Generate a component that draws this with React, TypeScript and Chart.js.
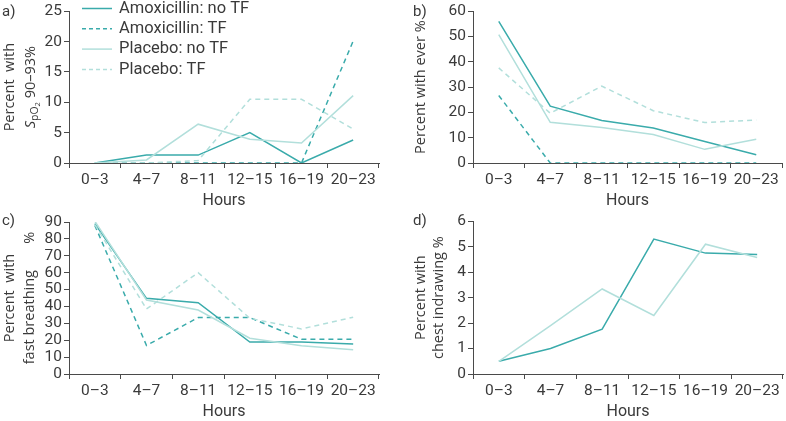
import React, { useEffect, useRef } from 'react';
import { Chart, registerables } from 'chart.js';

Chart.register(...registerables);

// ---------- data ----------
const HOURS = ['0–3', '4–7', '8–11', '12–15', '16–19', '20–23'];
const SERIES_NAMES = ['Amoxicillin: no TF', 'Amoxicillin: TF', 'Placebo: no TF', 'Placebo: TF'];

// a) Percent with SpO2 90–93%
const SPO2_AMOX_NO_TF = [0, 1.3, 1.3, 5.0, 0, 3.8];
const SPO2_AMOX_TF = [0, 0, 0, 0, 0, 20.1];
const SPO2_PLAC_NO_TF = [0, 0.5, 6.4, 3.9, 3.3, 11.1];
const SPO2_PLAC_TF = [0, 0, 0.4, 10.5, 10.5, 5.6];

// b) Percent with ever %
const EVER_AMOX_NO_TF = [56, 22.5, 16.8, 13.8, 8.5, 3.3];
const EVER_AMOX_TF = [26.7, 0, 0, 0, 0, 0];
const EVER_PLAC_NO_TF = [50.8, 16.1, 14.0, 11.3, 5.4, 9.4];
const EVER_PLAC_TF = [37.6, 19.7, 30.4, 20.7, 16.0, 17.0];

// c) Percent with fast breathing %
const FAST_AMOX_NO_TF = [89, 44.8, 42.2, 18.9, 19.0, 17.7];
const FAST_AMOX_TF = [88, 16.9, 33.4, 33.4, 20.6, 20.6];
const FAST_PLAC_NO_TF = [90.5, 43.8, 37.9, 21.2, 16.7, 14.3];
const FAST_PLAC_TF = [88.5, 38.5, 60, 33, 26.7, 33.6];

// d) Percent with chest indrawing %
const CHEST_AMOX_NO_TF = [0.5, 1.0, 1.76, 5.3, 4.75, 4.7];
const CHEST_PLAC_NO_TF = [0.5, 1.9, 3.34, 2.3, 5.1, 4.58];

// ---------- styles ----------
const AMOX = '#3aabab';
const PLAC = '#b2dfdb';
const AXIS = '#4a4a4a';
const TEXT = '#3a3a3a';
const TICK_FONT = 'Roboto';
const TITLE_FONT = '"Open Sans"';
const TICK_SIZE = 15.5;
const TITLE_SIZE = 14.5;
const DASH = [5, 4];

type Seg = { text: string; size: number; dy?: number; italic?: boolean };
type TitleLine = { x: number; segs: Seg[] };

function mkDatasets(amoxNo?: number[], amoxTF?: number[], placNo?: number[], placTF?: number[]) {
  const ds: any[] = [];
  const base = { borderWidth: 1.5, pointRadius: 0, tension: 0, fill: false };
  if (placTF) ds.push({ ...base, label: SERIES_NAMES[3], data: placTF, borderColor: PLAC, borderDash: DASH });
  if (placNo) ds.push({ ...base, label: SERIES_NAMES[2], data: placNo, borderColor: PLAC });
  if (amoxTF) ds.push({ ...base, label: SERIES_NAMES[1], data: amoxTF, borderColor: AMOX, borderDash: DASH });
  if (amoxNo) ds.push({ ...base, label: SERIES_NAMES[0], data: amoxNo, borderColor: AMOX });
  return ds;
}

function drawRotated(ctx: CanvasRenderingContext2D, x: number, y: number, segs: Seg[]) {
  ctx.save();
  ctx.translate(x, y);
  ctx.rotate(-Math.PI / 2);
  ctx.textBaseline = 'middle';
  ctx.textAlign = 'left';
  const fontOf = (s: Seg) => `${s.italic ? 'italic ' : ''}${s.size}px ${TITLE_FONT}`;
  let w = 0;
  for (const s of segs) {
    ctx.font = fontOf(s);
    w += ctx.measureText(s.text).width;
  }
  let cx = -w / 2;
  for (const s of segs) {
    ctx.font = fontOf(s);
    ctx.fillText(s.text, cx, s.dy || 0);
    cx += ctx.measureText(s.text).width;
  }
  ctx.restore();
}

type PanelProps = {
  left: number; top: number; width: number; height: number;
  area: { left: number; right: number; top: number; bottom: number };
  max: number; step: number;
  datasets: any[];
  label: string; labelX: number; labelY: number;
  titles: TitleLine[];
  legend?: boolean;
};

function Panel(p: PanelProps) {
  const ref = useRef<HTMLCanvasElement | null>(null);
  useEffect(() => {
    if (!ref.current) return;
    const overlay = {
      id: 'overlay',
      afterDraw(chart: any) {
        const ctx: CanvasRenderingContext2D = chart.ctx;
        const ca = chart.chartArea;
        ctx.save();
        ctx.fillStyle = TEXT;
        ctx.textBaseline = 'middle';
        ctx.textAlign = 'left';
        ctx.font = `15px ${TICK_FONT}`;
        ctx.fillText(p.label, p.labelX, p.labelY);
        ctx.textAlign = 'center';
        ctx.font = `16px ${TICK_FONT}`;
        ctx.fillText('Hours', (ca.left + ca.right) / 2, ca.bottom + 38);
        const cy = (ca.top + ca.bottom) / 2;
        for (const t of p.titles) drawRotated(ctx, t.x, cy, t.segs);
        if (p.legend) {
          const rows = [
            { name: SERIES_NAMES[0], color: AMOX, dash: [] as number[] },
            { name: SERIES_NAMES[1], color: AMOX, dash: [4, 3] },
            { name: SERIES_NAMES[2], color: PLAC, dash: [] as number[] },
            { name: SERIES_NAMES[3], color: PLAC, dash: [4, 3] },
          ];
          rows.forEach((r, i) => {
            const y = 8.5 + i * 20.3;
            ctx.beginPath();
            ctx.setLineDash(r.dash);
            ctx.strokeStyle = r.color;
            ctx.lineWidth = 1.5;
            ctx.moveTo(82, y);
            ctx.lineTo(112, y);
            ctx.stroke();
            ctx.setLineDash([]);
            ctx.fillStyle = TEXT;
            ctx.textAlign = 'left';
            ctx.font = `16.5px ${TICK_FONT}`;
            ctx.fillText(r.name, 119, y);
          });
        }
        ctx.restore();
      },
    };
    const chart = new Chart(ref.current, {
      type: 'line',
      data: { labels: HOURS, datasets: p.datasets },
      options: {
        animation: false,
        responsive: false,
        maintainAspectRatio: false,
        devicePixelRatio: 1,
        layout: { padding: { left: 0, top: p.area.top, right: p.width - p.area.right, bottom: 0 } },
        plugins: { legend: { display: false }, tooltip: { enabled: false }, title: { display: false } },
        scales: {
          x: {
            type: 'category',
            offset: true,
            grid: { offset: true, drawOnChartArea: false, drawTicks: true, tickLength: 5, color: AXIS, lineWidth: 1 },
            border: { display: true, color: AXIS, width: 1 },
            ticks: { font: { family: TICK_FONT, size: TICK_SIZE }, color: TEXT, padding: 3, maxRotation: 0, autoSkip: false },
            afterFit: (s: any) => { s.height = p.height - p.area.bottom; },
          },
          y: {
            min: 0,
            max: p.max,
            grid: { drawOnChartArea: false, drawTicks: true, tickLength: 5, color: AXIS, lineWidth: 1 },
            border: { display: true, color: AXIS, width: 1 },
            ticks: { stepSize: p.step, autoSkip: false, font: { family: TICK_FONT, size: TICK_SIZE }, color: TEXT, padding: 2 },
            afterFit: (s: any) => { s.width = p.area.left; },
          },
        },
      } as any,
      plugins: [overlay],
    });
    return () => chart.destroy();
  }, []);
  return (
    <canvas
      ref={ref}
      width={p.width}
      height={p.height}
      style={{ position: 'absolute', left: p.left, top: p.top, width: p.width, height: p.height }}
    />
  );
}

export default function App() {
  const W = 393;
  return (
    <div style={{ position: 'fixed', left: 0, top: 0, width: 786, height: 421, background: '#fff', overflow: 'hidden' }}>
      <Panel
        left={0} top={0} width={W} height={210}
        area={{ left: 69, right: 379, top: 10, bottom: 163 }}
        max={25} step={5}
        datasets={mkDatasets(SPO2_AMOX_NO_TF, SPO2_AMOX_TF, SPO2_PLAC_NO_TF, SPO2_PLAC_TF)}
        label="a)" labelX={2} labelY={12}
        titles={[
          { x: 10, segs: [{ text: 'Percent  with', size: TITLE_SIZE }] },
          {
            x: 31,
            segs: [
              { text: 'S', size: TITLE_SIZE, italic: true },
              { text: 'pO', size: 10.5, dy: 4 },
              { text: '2', size: 7.5, dy: 7 },
              { text: ' 90–93%', size: TITLE_SIZE },
            ],
          },
        ]}
        legend
      />
      <Panel
        left={W} top={0} width={W} height={210}
        area={{ left: 80, right: 389, top: 11, bottom: 163 }}
        max={60} step={10}
        datasets={mkDatasets(EVER_AMOX_NO_TF, EVER_AMOX_TF, EVER_PLAC_NO_TF, EVER_PLAC_TF)}
        label="b)" labelX={20} labelY={12}
        titles={[{ x: 28, segs: [{ text: 'Percent with ever %', size: TITLE_SIZE }] }]}
      />
      <Panel
        left={0} top={210} width={W} height={211}
        area={{ left: 69, right: 379, top: 12, bottom: 164 }}
        max={90} step={10}
        datasets={mkDatasets(FAST_AMOX_NO_TF, FAST_AMOX_TF, FAST_PLAC_NO_TF, FAST_PLAC_TF)}
        label="c)" labelX={2} labelY={11}
        titles={[
          { x: 10, segs: [{ text: 'Percent  with', size: TITLE_SIZE }] },
          { x: 30, segs: [{ text: 'fast breathing       %', size: TITLE_SIZE }] },
        ]}
      />
      <Panel
        left={W} top={210} width={W} height={211}
        area={{ left: 80, right: 390, top: 11, bottom: 164 }}
        max={6} step={1}
        datasets={mkDatasets(CHEST_AMOX_NO_TF, undefined, CHEST_PLAC_NO_TF, undefined)}
        label="d)" labelX={20} labelY={11}
        titles={[
          { x: 28, segs: [{ text: 'Percent with', size: TITLE_SIZE }] },
          { x: 46, segs: [{ text: 'chest indrawing %', size: TITLE_SIZE }] },
        ]}
      />
    </div>
  );
}
